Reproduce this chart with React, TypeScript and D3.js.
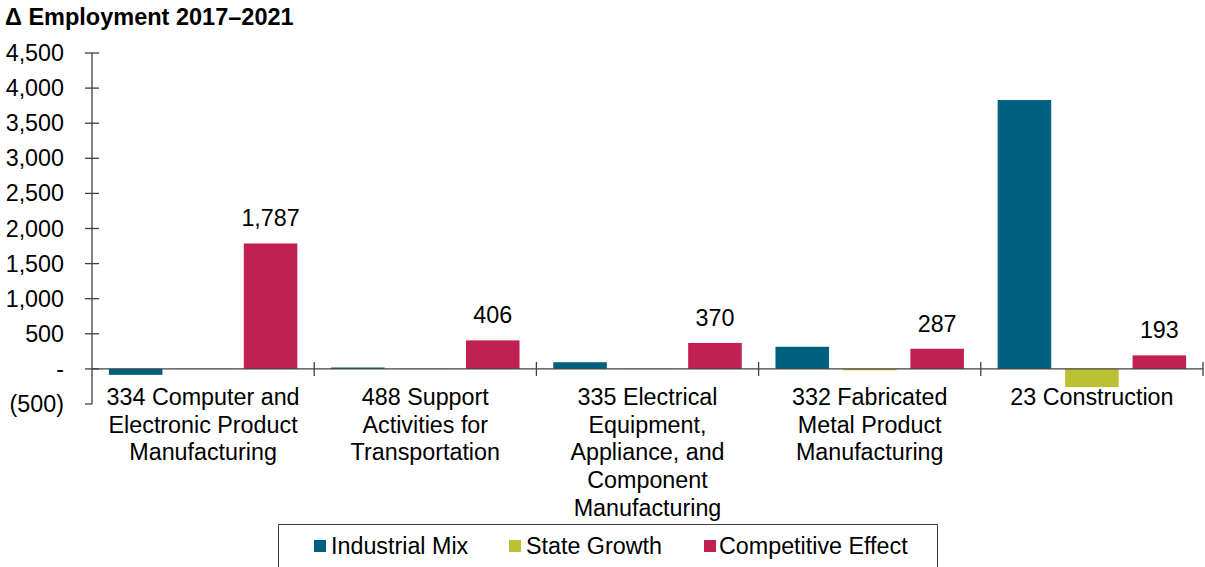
import React from "react";
import * as d3 from "d3";

const categories: string[][] = [
  ["334 Computer and", "Electronic Product", "Manufacturing"],
  ["488 Support", "Activities for", "Transportation"],
  ["335 Electrical", "Equipment,", "Appliance, and", "Component", "Manufacturing"],
  ["332 Fabricated", "Metal Product", "Manufacturing"],
  ["23 Construction"],
];
const seriesNames = ["Industrial Mix", "State Growth", "Competitive Effect"];
const industrialMix = [-85, 20, 95, 315, 3830];
const stateGrowth = [-3, -3, -3, -20, -260];
const competitiveEffect = [1787, 406, 370, 287, 193];
const yTicks = [-500, 0, 500, 1000, 1500, 2000, 2500, 3000, 3500, 4000, 4500];
const colors = ["#00607F", "#BCC033", "#C02152"];

const W = 1205;
const H = 567;
const FONT = "'Liberation Sans', Arial, sans-serif";
const FS = 23.3;

export default function App() {
  const x0 = 92;
  const x1 = 1203;
  const y = d3.scaleLinear().domain([-500, 4500]).range([404, 53]);
  const xBand = d3
    .scaleBand<number>()
    .domain(d3.range(categories.length))
    .range([x0, x1])
    .paddingInner(0)
    .paddingOuter(0);
  const inner = d3
    .scaleBand<number>()
    .domain([0, 1, 2])
    .range([0, xBand.bandwidth()])
    .paddingInner(0.206)
    .paddingOuter(0.25);
  const series = [industrialMix, stateGrowth, competitiveEffect];
  const fmt = (v: number) =>
    v === 0 ? "-" : v < 0 ? `(${d3.format(",")(-v)})` : d3.format(",")(v);
  const axisColor = "#404040";
  const y0 = y(0);

  const legendItems = [
    { x: 314, tx: 331 },
    { x: 509, tx: 526 },
    { x: 704, tx: 719 },
  ];

  return (
    <svg
      width={W}
      height={H}
      style={{ position: "absolute", left: 0, top: 0, background: "#fff" }}
      fontFamily={FONT}
    >
      <text x={5} y={25} fontSize={23.5} fontWeight="bold" fill="#000">
        Δ Employment 2017–2021
      </text>
      {/* bars */}
      {series.map((vals, si) =>
        vals.map((v, ci) => {
          const bx = (xBand(ci) as number) + (inner(si) as number);
          const top = Math.min(y(v), y0);
          const h = Math.abs(y(v) - y0);
          return (
            <rect
              key={`${si}-${ci}`}
              x={bx}
              y={top}
              width={inner.bandwidth()}
              height={h}
              fill={colors[si]}
            />
          );
        })
      )}
      {/* data labels for competitive effect */}
      {competitiveEffect.map((v, ci) => (
        <text
          key={`lab${ci}`}
          x={(xBand(ci) as number) + (inner(2) as number) + inner.bandwidth() / 2}
          y={y(v) - 17}
          fontSize={FS}
          textAnchor="middle"
          fill="#000"
        >
          {d3.format(",")(v)}
        </text>
      ))}
      {/* y axis */}
      <line x1={x0} x2={x0} y1={y(4500)} y2={y(-500)} stroke={axisColor} strokeWidth={1.3} />
      {yTicks.map((t) => (
        <g key={`yt${t}`}>
          <line x1={x0 - 7} x2={x0 + (t === -500 ? 0 : 7)} y1={y(t)} y2={y(t)} stroke={axisColor} strokeWidth={1.3} />
          <text x={64} y={y(t) + 8} fontSize={FS} textAnchor="end" fill="#000">
            {fmt(t)}
          </text>
        </g>
      ))}
      {/* x axis at zero */}
      <line x1={x0} x2={x1} y1={y0} y2={y0} stroke={axisColor} strokeWidth={1.3} />
      {d3.range(1, categories.length + 1).map((i) => {
        const xx = i < categories.length ? (xBand(i) as number) : x1;
        return (
          <line key={`xt${i}`} x1={xx} x2={xx} y1={y0 - 7} y2={y0 + 7} stroke={axisColor} strokeWidth={1.3} />
        );
      })}
      {/* category labels */}
      {categories.map((lines, ci) => (
        <text
          key={`cat${ci}`}
          x={(xBand(ci) as number) + xBand.bandwidth() / 2}
          y={405}
          fontSize={FS}
          textAnchor="middle"
          fill="#000"
        >
          {lines.map((l, li) => (
            <tspan key={li} x={(xBand(ci) as number) + xBand.bandwidth() / 2} dy={li === 0 ? 0 : 27.7}>
              {l}
            </tspan>
          ))}
        </text>
      ))}
      {/* legend */}
      <rect x={278.5} y={524.5} width={659} height={50} fill="#fff" stroke="#404040" strokeWidth={1} />
      {seriesNames.map((n, i) => (
        <g key={`lg${i}`}>
          <rect x={legendItems[i].x} y={540} width={12} height={12} fill={colors[i]} />
          <text x={legendItems[i].tx} y={554} fontSize={FS} fill="#000">
            {n}
          </text>
        </g>
      ))}
    </svg>
  );
}
